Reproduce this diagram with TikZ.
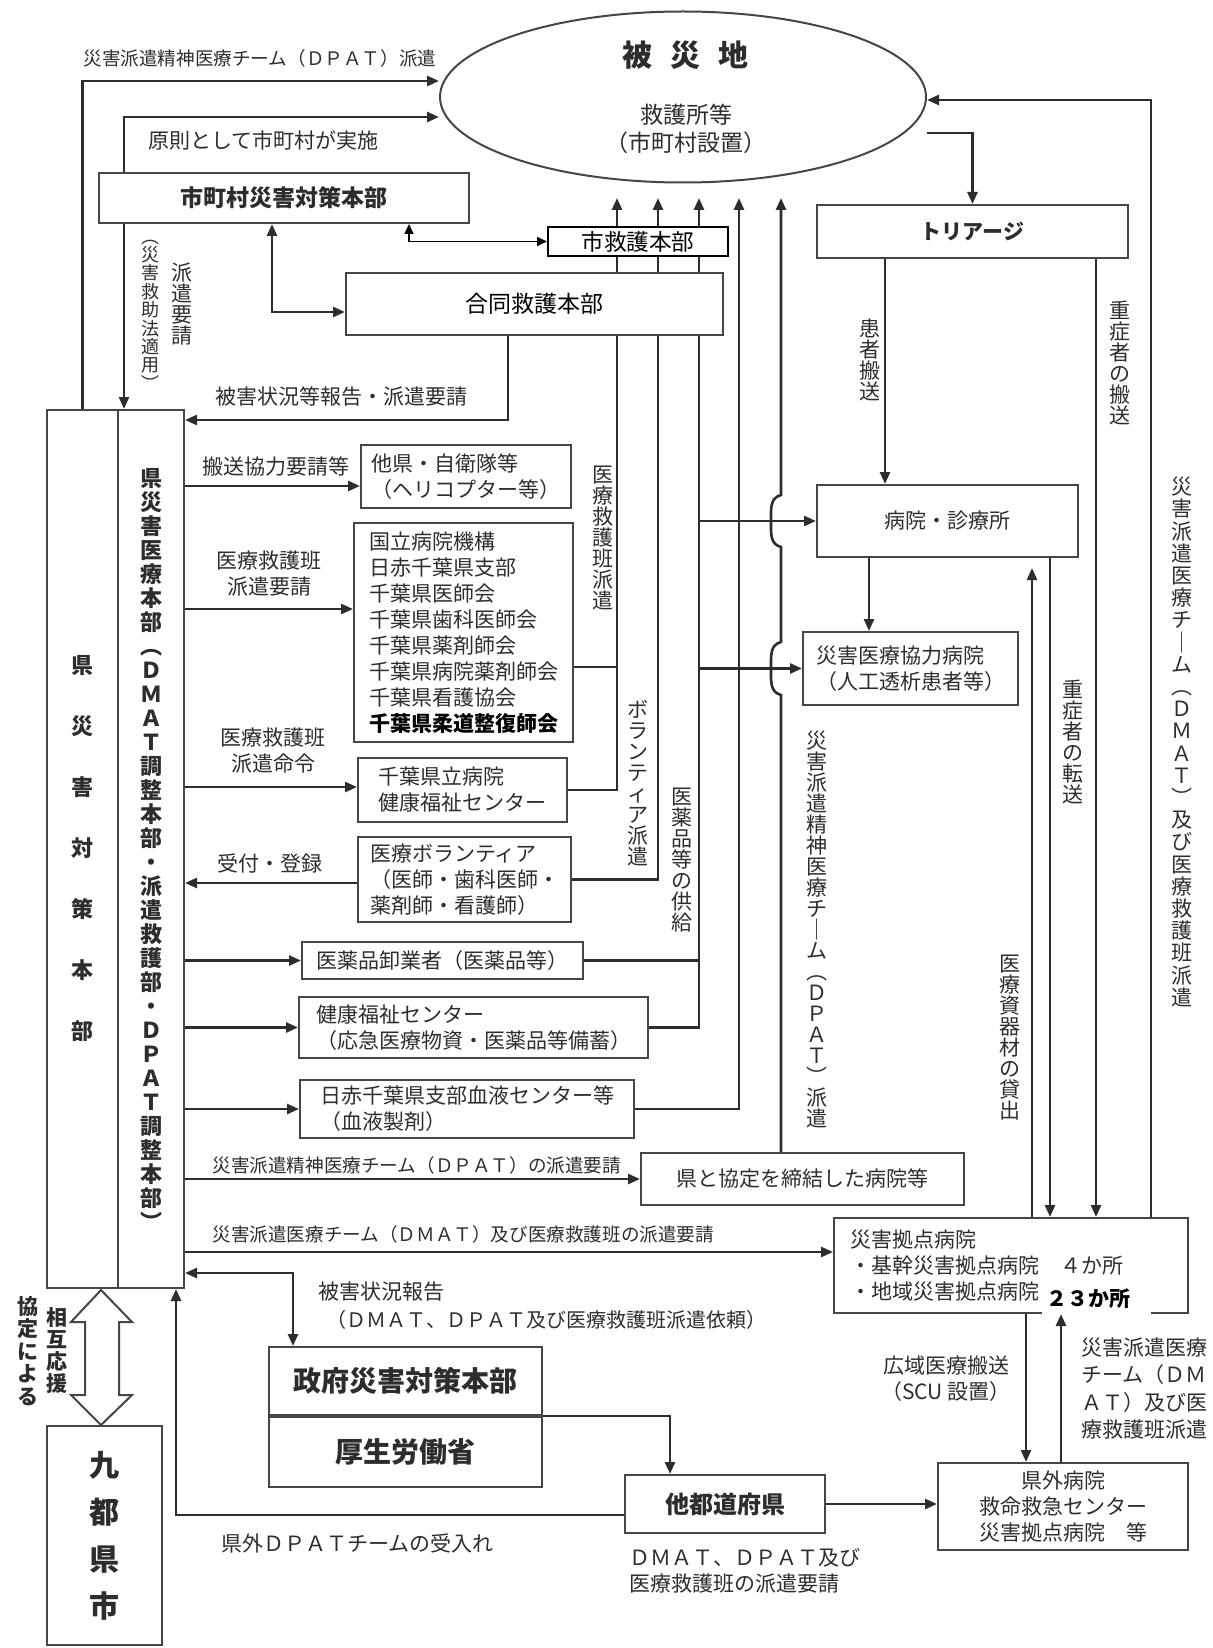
\documentclass[tikz,border=0pt]{standalone}
\usepackage{fontspec}
\setmainfont{Noto Sans CJK JP}
\usetikzlibrary{arrows.meta,positioning,shapes.geometric,backgrounds}
\definecolor{inkcol}{RGB}{45,45,45}
\definecolor{framecol}{RGB}{70,70,70}
\makeatletter
\newcommand\tate[2][10.5pt]{%
  \vbox{\baselineskip=#1\lineskiplimit=-\maxdimen\lineskip=0pt
    \@tfor\tate@c:=#2\do{\hbox to 1em{\hss\tate@c\hss}}}}
\makeatother
\tikzset{
  basebox/.style={rectangle,draw=framecol,line width=1pt,fill=white,inner sep=0pt,text=inkcol,font=\fontsize{10.5}{13}\selectfont},
  listbox/.style={basebox,align=left},
  headbox/.style={basebox,font=\fontsize{11.5}{14}\selectfont\bfseries},
  conn/.style={line width=1.3pt,draw=inkcol,>={Triangle[length=6pt,width=5pt]}},
  thinconn/.style={line width=0.8pt,draw=black,>={Triangle[length=5pt,width=4.5pt]}},
  lbl/.style={inner sep=0pt,text=inkcol,font=\fontsize{10.5}{13}\selectfont},
  smalllbl/.style={lbl,font=\fontsize{9.3}{11}\selectfont},
}

\begin{document}
\begin{tikzpicture}[x=0.5pt,y=-0.5pt]
  \useasboundingbox (0,0) rectangle (1213,1648);
  \node[ellipse,draw=framecol,line width=1pt,minimum width=243pt,minimum height=85.5pt,inner sep=0pt] (hisaichi) at (683,97) {};
  \node[lbl,font=\fontsize{15}{18}\selectfont\bfseries] (hisaichiname) at (685,55) {被\hspace{9pt}災\hspace{9pt}地};
  \node[lbl,font=\fontsize{11.5}{14}\selectfont] (kyugosho) at (686,115) {救護所等};
  \node[lbl,font=\fontsize{11.5}{14}\selectfont] (setchi) at (686,143) {（市町村設置）};

  \node[headbox,minimum width=185pt,minimum height=25pt] (shichoson) at (284,198) {市町村災害対策本部};
  \node[basebox,minimum width=188.5pt,minimum height=31pt,text=black,font=\fontsize{11.5}{14}\selectfont] (goudou) at (534.5,304) {合同救護本部};
  \node[basebox,draw=black,minimum width=90pt,minimum height=14.5pt,text=black,font=\fontsize{11.3}{14}\selectfont] (shikyugo) at (638,241.5) {市救護本部};
  \node[headbox,font=\fontsize{10.5}{13}\selectfont\bfseries,minimum width=155.5pt,minimum height=26.5pt] (triage) at (972.5,231.5) {トリアージ};

  \node[headbox,font=\fontsize{11}{13}\selectfont\bfseries,minimum width=35.5pt,minimum height=439pt] (kentaisaku) at (82.5,849) {\tate[30.5pt]{県災害対策本部}};
  \node[headbox,font=\fontsize{11}{13}\selectfont\bfseries,minimum width=33pt,minimum height=439pt] (keniryo) at (151,849) {\tate[12pt]{県災害医療本部︵ＤＭＡＴ調整本部・派遣救護部・ＤＰＡＴ調整本部︶}};

  \node[listbox,minimum width=105pt,minimum height=31.5pt] (takenjieitai) at (466,476.5) {他県・自衛隊等\\（ヘリコプター等）};
  \node[listbox,minimum width=109.5pt,minimum height=109.5pt] (dantai) at (463.5,632.5) {国立病院機構\\日赤千葉県支部\\千葉県医師会\\千葉県歯科医師会\\千葉県薬剤師会\\千葉県病院薬剤師会\\千葉県看護協会\\{\color{black}\bfseries 千葉県柔道整復師会}};
  \node[listbox,minimum width=104.5pt,minimum height=32pt] (kenritsu) at (462.5,790) {千葉県立病院\\健康福祉センター};
  \node[listbox,minimum width=106.5pt,minimum height=42.5pt] (volunteer) at (464.5,879.5) {医療ボランティア\\（医師・歯科医師・\\薬剤師・看護師）};
  \node[basebox,minimum width=140.5pt,minimum height=18.5pt] (oroshi) at (442.5,960.5) {医薬品卸業者（医薬品等）};
  \node[listbox,minimum width=174.5pt,minimum height=30.5pt] (kenkou) at (473.5,1027.5) {健康福祉センター\\（応急医療物資・医薬品等備蓄）};
  \node[listbox,minimum width=167pt,minimum height=29pt] (ketsueki) at (467,1109) {日赤千葉県支部血液センター等\\（血液製剤）};
  \node[basebox,minimum width=161.5pt,minimum height=26pt] (kyoutei) at (802.5,1179) {県と協定を締結した病院等};

  \node[basebox,minimum width=130.5pt,minimum height=36pt] (byouin) at (947.5,521) {病院・診療所};
  \node[listbox,minimum width=107.5pt,minimum height=36.5pt] (kyoryoku) at (910.5,668.5) {災害医療協力病院\\（人工透析患者等）};
  \node[listbox,text width=161pt,inner xsep=8pt,minimum height=47.5pt] (kyoten) at (1011,1265.5) {災害拠点病院\\・基幹災害拠点病院　４か所\\・地域災害拠点病院};
  \node[fill=white,inner xsep=2pt,inner ysep=0pt,text width=50.5pt,minimum height=16pt,anchor=west,text=black,font=\fontsize{10.5}{13}\selectfont\bfseries] (kasho23) at (1042,1299) {２３か所};
  \node[basebox,align=center,minimum width=125pt,minimum height=43.5pt] (kengai) at (1063,1506.5) {県外病院\\救命救急センター\\災害拠点病院　等};
  \node[headbox,font=\fontsize{12}{14}\selectfont\bfseries,minimum width=100pt,minimum height=29pt] (tatodofuken) at (725,1504) {他都道府県};
  \node[headbox,font=\fontsize{14}{16}\selectfont\bfseries,minimum width=136.5pt,minimum height=34pt] (seifu) at (405.5,1381) {政府災害対策本部};
  \node[headbox,font=\fontsize{14}{16}\selectfont\bfseries,minimum width=136.5pt,minimum height=35pt,below=0pt of seifu] (kourou) {厚生労働省};
  \node[headbox,font=\fontsize{15}{18}\selectfont\bfseries,minimum width=57.5pt,minimum height=109.5pt] (kyuto) at (104.5,1535.5) {\tate[23.5pt]{九都県市}};

  \draw[line width=1pt,draw=framecol,fill=white] (101,1290) -- (132,1322) -- (119,1322) -- (119,1395) -- (132,1395)
    -- (101,1425) -- (71,1395) -- (85,1395) -- (85,1322) -- (71,1322) -- cycle;

  \node[smalllbl,anchor=west] (dpatlbl) at (83,58) {災害派遣精神医療チーム（ＤＰＡＴ）派遣};
  \node[lbl,anchor=west] (gensokulbl) at (148,140) {原則として市町村が実施};
  \node[lbl,font=\fontsize{9}{11}\selectfont] (kyujolbl) at (150,315) {\tate[9.2pt]{︵災害救助法適用︶}};
  \node[lbl] (hakenlbl) at (182,304) {\tate{派遣要請}};
  \node[lbl,anchor=west] (higailbl) at (215,397) {被害状況等報告・派遣要請};
  \node[lbl,anchor=west] (hansolbl) at (202,467) {搬送協力要請等};
  \node[lbl,align=center] (yoseilbl) at (269,574) {医療救護班\\派遣要請};
  \node[lbl,align=center] (meireilbl) at (273,750.5) {医療救護班\\派遣命令};
  \node[lbl,anchor=west] (uketsukelbl) at (217,863) {受付・登録};
  \node[smalllbl,anchor=west] (dpatreqlbl) at (212,1165) {災害派遣精神医療チーム（ＤＰＡＴ）の派遣要請};
  \node[smalllbl,anchor=west] (dmatreqlbl) at (212,1234) {災害派遣医療チーム（ＤＭＡＴ）及び医療救護班の派遣要請};
  \node[lbl,anchor=west] (hokokulbl) at (318,1292) {被害状況報告};
  \node[lbl,anchor=west,font=\fontsize{10}{12}\selectfont] (irailbl) at (326,1320) {（ＤＭＡＴ、ＤＰＡＴ及び医療救護班派遣依頼）};
  \node[lbl,anchor=west] (ukeirelbl) at (221,1543) {県外ＤＰＡＴチームの受入れ};
  \node[lbl,anchor=west,align=left] (tatoreqlbl) at (629,1570.5) {ＤＭＡＴ、ＤＰＡＴ及び\\医療救護班の派遣要請};
  \node[lbl,align=center] (kouikilbl) at (946,1378.5) {広域医療搬送\\（SCU 設置）};
  \node[lbl,anchor=west,align=left,font=\fontsize{10.5}{13.8}\selectfont] (dmatlbl) at (1081,1388.5) {災害派遣医療\\チーム（ＤＭ\\ＡＴ）及び医\\療救護班派遣};

  \node[lbl] (haken1lbl) at (603,538) {\tate{医療救護班派遣}};
  \node[lbl] (haken2lbl) at (638,783) {\tate{ボランティア派遣}};
  \node[lbl] (kyokyulbl) at (682,860) {\tate{医薬品等の供給}};
  \node[lbl] (dpathakenlbl) at (817,929) {\tate{災害派遣精神医療チ｜ム︵ＤＰＡＴ︶派遣}};
  \node[lbl] (kanjalbl) at (870,360) {\tate{患者搬送}};
  \node[lbl] (hansolbl2) at (1120,363) {\tate{重症者の搬送}};
  \node[lbl] (tensolbl) at (1073,742) {\tate{重症者の転送}};
  \node[lbl] (kashidashilbl) at (1010,1038) {\tate{医療資器材の貸出}};
  \node[lbl] (dmathakenlbl) at (1182,742) {\tate[11.1pt]{災害派遣医療チ｜ム︵ＤＭＡＴ︶及び医療救護班派遣}};
  \node[lbl,font=\fontsize{10.5}{13}\selectfont\bfseries] (ouenlbl) at (57,1351) {\tate[11pt]{相互応援}};
  \node[lbl,font=\fontsize{10.5}{13}\selectfont\bfseries] (kyoteilbl) at (28,1351) {\tate[11.3pt]{協定による}};

  \coordinate (tip1) at (617,198);
  \coordinate (tip2) at (658,198);
  \coordinate (tip3) at (699,198);
  \coordinate (tip4) at (739,198);
  \coordinate (tip5) at (781,198);

  \begin{scope}[on background layer]
    \fill[white] (0,0) rectangle (1213,1648);
    \draw[conn,->] (kenritsu.east) -| (tip1);
    \draw[conn] (dantai.east |- 0,667) -- (tip1 |- 0,667);
    \draw[conn,->] (volunteer.east) -| (tip2);
    \draw[conn,->] (kenkou.east) -| (tip3);
    \draw[conn] (oroshi.east) -- (tip3 |- oroshi.east);
    \draw[conn,->] (ketsueki.east) -| (tip4);
    \draw[conn,->] (tip5 |- kyoutei.north) -- (781,695) .. controls (770,692) and (771,682) .. (771,668.5)
      .. controls (771,655) and (770,645) .. (781,642) -- (781,547) .. controls (770,544) and (771,534) .. (771,521)
      .. controls (771,508) and (770,498) .. (781,495) -- (tip5);
  \end{scope}

  \draw[conn,->] (kentaisaku.north) |- (hisaichi.west |- 0,81);
  \draw[conn,->] (124,0 |- shichoson.north) |- (hisaichi.west |- 0,117);
  \draw[conn,->] (124,0 |- shichoson.south) -- (124,0 |- keniryo.north);
  \draw[conn,<->] (272,0 |- shichoson.south) |- (goudou.west |- 0,312);
  \draw[thinconn,<->] (409,0 |- shichoson.south) |- (shikyugo.west);
  \draw[conn,->] (508,0 |- goudou.south) |- (keniryo.east |- 0,420);

  \draw[conn,->] (tip3 |- byouin.west) -- (byouin.west);
  \draw[conn,->] (tip3 |- kyoryoku.west) -- (kyoryoku.west);

  \draw[conn,->] (hisaichi.east |- 0,133) -| (triage.north);
  \draw[conn,->] (885,0 |- triage.south) -- (885,0 |- byouin.north);
  \draw[conn,->] (1096,0 |- triage.south) -- (1096,0 |- kyoten.north);
  \draw[conn,->] (869,0 |- byouin.south) -- (869,0 |- kyoryoku.north);
  \draw[conn,->,shorten >=5pt] (1032,0 |- kyoten.north) -- (1032,0 |- byouin.south);
  \draw[conn,->] (1050,0 |- byouin.south) -- (1050,0 |- kyoten.north);
  \draw[conn,->] (1151,0 |- kyoten.north) |- (hisaichi.east |- 0,100);

  \draw[conn,->] (keniryo.east |- 0,486) -- (takenjieitai.west |- 0,486);
  \draw[conn,->] (keniryo.east |- 0,609) -- (dantai.west |- 0,609);
  \draw[conn,->] (keniryo.east |- 0,787) -- (kenritsu.west |- 0,787);
  \draw[conn,->] (volunteer.west |- 0,883) -- (keniryo.east |- 0,883);
  \draw[conn,->] (keniryo.east |- oroshi.west) -- (oroshi.west);
  \draw[conn,->] (keniryo.east |- kenkou.west) -- (kenkou.west);
  \draw[conn,->] (keniryo.east |- ketsueki.west) -- (ketsueki.west);
  \draw[conn,->] (keniryo.east |- kyoutei.west) -- (kyoutei.west);
  \draw[conn,->] (keniryo.east |- 0,1252) -- (kyoten.west |- 0,1252);
  \draw[conn,<->] (keniryo.east |- 0,1273) -| (seifu.north -| 293,0);

  \draw[conn,->] (seifu.south east) -| (670,0 |- tatodofuken.north);
  \draw[conn,->] (tatodofuken.west |- 0,1515) -| (176,0 |- keniryo.south);
  \draw[conn,->] (tatodofuken.east) -- (kengai.west |- tatodofuken.east);
  \draw[conn,->] (1026,0 |- kyoten.south) -- (1026,0 |- kengai.north);
  \draw[conn,->] (1061,0 |- kengai.north) -- (1061,0 |- kyoten.south);
\end{tikzpicture}
\end{document}
